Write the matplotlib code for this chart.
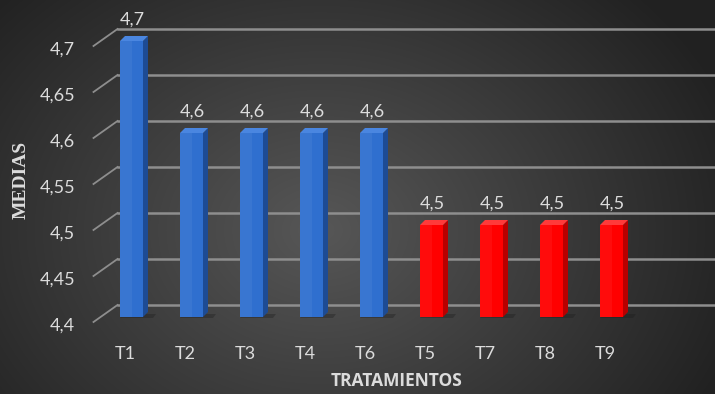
import numpy as np
import matplotlib.pyplot as plt
import matplotlib.transforms as mtransforms
from matplotlib.patches import Polygon

# Medias por tratamiento
tratamientos = ["T1", "T2", "T3", "T4", "T6", "T5", "T7", "T8", "T9"]
medias = [4.7, 4.6, 4.6, 4.6, 4.6, 4.5, 4.5, 4.5, 4.5]
grupo_rojo = ["T5", "T7", "T8", "T9"]
yticks = [4.4, 4.45, 4.5, 4.55, 4.6, 4.65, 4.7]

W, H = 715, 394
fig = plt.figure(figsize=(W / 100, H / 100), dpi=100)

# fondo con degradado radial oscuro
bg = fig.add_axes([0, 0, 1, 1])
yy, xx = np.mgrid[0:H, 0:W]
r = np.sqrt(((xx - 320) / 420.0) ** 2 + ((yy - 230) / 330.0) ** 2)
shade = np.clip(0.34 - 0.20 * r, 0.13, 0.35)
bg.imshow(np.dstack([shade] * 3), aspect="auto", extent=[0, W, H, 0])
bg.axis("off")

# ejes en pixeles: 60 px por categoria, 46 px por 0,05
left_px, bottom_px = 101.5, 77
xmin, xmax = -0.5, 9.7
ymin, ymax = 4.4, 4.7
ax_w = (xmax - xmin) * 60
ax_h = 276
ax = fig.add_axes([left_px / W, bottom_px / H, ax_w / W, ax_h / H])
ax.set_xlim(xmin, xmax)
ax.set_ylim(ymin, ymax)
ax.patch.set_alpha(0)
for s in ax.spines.values():
    s.set_visible(False)

px_x = (xmax - xmin) / ax_w
px_y = (ymax - ymin) / ax_h

grid_col = "#8e8e8e"
# pared del fondo: lineas de cuadricula y diagonales de la izquierda
for yv in yticks:
    yb = yv + 12 * px_y
    ax.plot([xmin + 16 * px_x, xmax], [yb, yb], color=grid_col, lw=1.8,
            clip_on=False, zorder=1)
    ax.plot([xmin - 8 * px_x, xmin + 16 * px_x], [yv - 5 * px_y, yb],
            color=grid_col, lw=1.3, clip_on=False, zorder=1)

x = np.arange(len(tratamientos))
w = 23 / 60
dx, dy = 5 * px_x, 5 * px_y
txt_col = "#dcdcdc"
for xi, t, m in zip(x, tratamientos, medias):
    if t in grupo_rojo:
        front, side, top = "#ff0000", "#b80000", "#ff3a3a"
    else:
        front, side, top = "#2f6fcf", "#1d4b94", "#4a86e0"
    # sombra en la base
    ax.add_patch(Polygon([(xi - w / 2, ymin - 1 * px_y),
                          (xi + w / 2 + dx + 5 * px_x, ymin - 1 * px_y),
                          (xi + w / 2 + dx + 8 * px_x, ymin + 3 * px_y),
                          (xi - w / 2 + 3 * px_x, ymin + 3 * px_y)],
                         closed=True, color="#1c1c1c", alpha=0.35, lw=0,
                         clip_on=False, zorder=2))
    ax.bar(xi, m - ymin, bottom=ymin, width=w, color=front, lw=0, zorder=3)
    # brillo suave a la izquierda de la cara frontal
    ax.bar(xi - w / 4, m - ymin, bottom=ymin, width=w / 2, color="white",
           alpha=0.05, lw=0, zorder=3)
    ax.add_patch(Polygon([(xi + w / 2, ymin), (xi + w / 2 + dx, ymin + dy),
                          (xi + w / 2 + dx, m + dy), (xi + w / 2, m)],
                         closed=True, color=side, lw=0, zorder=3,
                         clip_on=False))
    ax.add_patch(Polygon([(xi - w / 2, m), (xi + w / 2, m),
                          (xi + w / 2 + dx, m + dy), (xi - w / 2 + dx, m + dy)],
                         closed=True, color=top, lw=0, zorder=3,
                         clip_on=False))
    ax.text(xi + 1 * px_x, m + 21 * px_y, f"{m:.1f}".replace(".", ","),
            ha="center", va="center", color=txt_col, fontsize=13,
            family="Lato", clip_on=False, zorder=4)

ax.set_yticks(yticks)
ax.set_yticklabels([f"{v:g}".replace(".", ",") for v in yticks],
                   color=txt_col, fontsize=13, family="Lato")
ax.tick_params(axis="y", length=0, pad=19)
ax.set_xticks(x)
ax.set_xticklabels(tratamientos, color=txt_col, fontsize=13, family="Lato")
ax.tick_params(axis="x", length=0, pad=21)

shift_y = mtransforms.ScaledTranslation(0, -7 / 100, fig.dpi_scale_trans)
for lab in ax.get_yticklabels():
    lab.set_transform(lab.get_transform() + shift_y)
shift_x = mtransforms.ScaledTranslation(-6 / 100, 0, fig.dpi_scale_trans)
for lab in ax.get_xticklabels():
    lab.set_transform(lab.get_transform() + shift_x)

fig.text(21 / W, 1 - 180 / H, "MEDIAS", rotation=90, ha="center", va="center",
         color=txt_col, fontsize=14, fontweight="bold", family="Liberation Serif")
fig.text(397 / W, 1 - 381 / H, "TRATAMIENTOS", ha="center", va="center",
         color=txt_col, fontsize=12.5, fontweight="bold", family="Open Sans")

fig.savefig("out.png", dpi=100)
